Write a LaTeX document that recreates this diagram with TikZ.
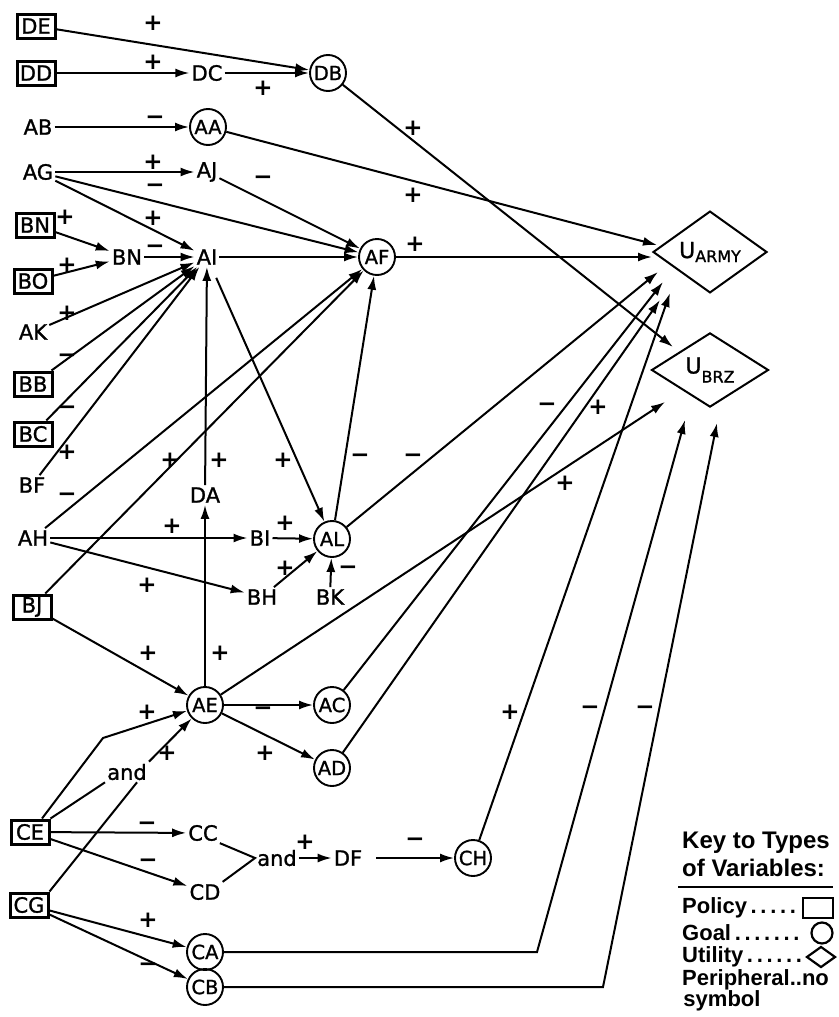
\documentclass[tikz,border=0pt]{standalone}
\usepackage{fontspec}
\setmainfont{DejaVu Sans}
\newfontfamily\heavy{DejaVu Sans}[FakeBold=1.2]
\newfontfamily\keyfont{Liberation Sans}
\usetikzlibrary{arrows.meta,shapes.geometric}
\begin{document}
\begin{tikzpicture}[x=1pt,y=-1pt,
  every node/.style={font=\fontsize{21}{23}\heavy},
  var/.style={inner sep=2pt},
  goal/.style={circle,draw,line width=1.9pt,minimum size=36pt,inner sep=0pt,font=\fontsize{19.5}{21}\heavy},
  policy/.style={rectangle,draw,line width=3pt,minimum width=38pt,minimum height=24pt,inner sep=1pt},
  util/.style={diamond,draw,line width=2pt,inner sep=0pt},
  link/.style={line width=2pt,-{Latex[length=14pt,width=9pt]}},
  plain/.style={line width=2pt},
  sgn/.style={font=\fontsize{23}{24}\selectfont\bfseries,inner sep=0pt},
  keyt/.style={font=\fontsize{24}{26}\keyfont\bfseries,inner sep=0pt,anchor=west},
  keyi/.style={font=\fontsize{22}{24}\keyfont\bfseries,inner sep=0pt,anchor=west}
]
\useasboundingbox (0,0) rectangle (838,1017);

% ---- nodes
\node[policy] (DE) at (36,26) {DE};
\node[policy] (DD) at (36,73) {DD};
\node[var] (DC) at (207,73) {DC};
\node[goal] (DB) at (328,73) {DB};
\node[var] (AB) at (38,127) {AB};
\node[goal] (AA) at (208,127) {AA};
\node[var] (AG) at (38,172) {AG};
\node[var] (AJ) at (207,172) {AJ};
\node[policy] (BNp) at (35,225) {BN};
\node[var] (BN) at (127,257) {BN};
\node[var] (AI) at (207,257) {AI};
\node[goal] (AF) at (377,257) {AF};
\node[policy] (BO) at (33,281) {BO};
\node[var] (AK) at (33,332) {AK};
\node[policy] (BB) at (33,384) {BB};
\node[policy] (BC) at (33,434) {BC};
\node[var] (BF) at (32,485) {BF};
\node[var] (DA) at (205,495) {DA};
\node[var] (AH) at (33,538) {AH};
\node[var] (BI) at (260,538) {BI};
\node[goal] (AL) at (332,539) {AL};
\node[var] (BH) at (262,597) {BH};
\node[var] (BK) at (330,597) {BK};
\node[policy] (BJ) at (32,607) {BJ};
\node[goal] (AE) at (205,705) {AE};
\node[goal] (AC) at (332,705) {AC};
\node[goal] (AD) at (332,768) {AD};
\node[var] (and1) at (127,772) {and};
\node[policy] (CE) at (30,832) {CE};
\node[var] (CC) at (203,833) {CC};
\node[var] (and2) at (277,858) {and};
\node[var] (DF) at (348,858) {DF};
\node[goal] (CH) at (473,858) {CH};
\node[var] (CD) at (205,892) {CD};
\node[policy] (CG) at (29,905) {CG};
\node[goal] (CA) at (205,952) {CA};
\node[goal] (CB) at (205,987) {CB};
\node[util,minimum width=114pt,minimum height=63pt] (UA) at (710,252)
  {\fontsize{22}{22}\heavy U\raisebox{-4pt}{\fontsize{16}{16}\heavy ARMY}};
\node[util,minimum width=117pt,minimum height=70pt] (UB) at (710,370)
  {\fontsize{22}{22}\heavy U\raisebox{-9pt}{\fontsize{16}{16}\heavy BRZ}};

% ---- free ends near the utility nodes
\coordinate (ua1) at (657,245);
\coordinate (ua2) at (652,257);
\coordinate (ua3) at (658,272);
\coordinate (ua4) at (663,282);
\coordinate (ua5) at (660,300);
\coordinate (ua6) at (670,293);
\coordinate (ub1) at (673,347);
\coordinate (ub2) at (665,402);
\coordinate (ub3) at (685,420);
\coordinate (ub4) at (717,423);
\coordinate (caB) at (537,952);
\coordinate (cbB) at (603,987);
\coordinate (ceB) at (103,738);

% ---- connectors
\draw[link] (DE) -- (DB);
\draw[link] (DD) -- (DC);
\draw[link] (DC) -- (DB);
\draw[link] (DB) -- (ub1);
\draw[link] (AB) -- (AA);
\draw[link] (AA) -- (ua1);
\draw[link] (AG) -- (AJ);
\draw[link] (AG) -- (AF);
\draw[link] (AG) -- (AI);
\draw[link] (AJ) -- (AF);
\draw[link] (BNp) -- (BN);
\draw[link] (BO) -- (BN);
\draw[link] (BN) -- (AI);
\draw[link] (AI) -- (AF);
\draw[link] (AF) -- (ua2);
\draw[link] (AK) -- (AI);
\draw[link] (BB) -- (AI);
\draw[link] (BC) -- (AI);
\draw[link] (BF) -- (AI);
\draw[link] (AH) -- (AF);
\draw[link] (BJ) -- (AF);
\draw[link] (DA) -- (AI);
\draw[link] (AE) -- (DA);
\draw[link,shorten <=12pt] (AI) -- (AL);
\draw[link] (AL) -- (AF);
\draw[link] (AL) -- (ua3);
\draw[link] (AH) -- (BI);
\draw[link] (AH) -- (BH);
\draw[link] (BI) -- (AL);
\draw[link] (BH) -- (AL);
\draw[link] (BK) -- (AL);
\draw[link] (BJ) -- (AE);
\draw[link] (AE) -- (ub2);
\draw[link] (AE) -- (AC);
\draw[link] (AE) -- (AD);
\draw[link] (AC) -- (ua4);
\draw[link] (AD) -- (ua5);
\draw[link] ([xshift=12pt]CE.north) -- (ceB) -- (AE);
\draw[link] (and1.north east) -- (AE);
\draw[plain] (CE.north east) -- (and1.south west);
\draw[plain] (CG.north east) -- ([xshift=10pt]and1.south);
\draw[link] (CE) -- (CC);
\draw[link] (CE) -- (CD);
\draw[plain] (CC.south east) -- (and2.west) -- (CD.north east);
\draw[link] (and2) -- (DF);
\draw[link,shorten <=12pt] (DF) -- (CH);
\draw[link] (CH) -- (ua6);
\draw[link] (CG) -- (CA);
\draw[link] (CG) -- (CB);
\draw[link] (CA) -- (caB) -- (ub3);
\draw[link] (CB) -- (cbB) -- (ub4);

% ---- signs
\node[sgn] (s1) at (153,23) {+};
\node[sgn] (s2) at (153,62) {+};
\node[sgn] (s3) at (263,88) {+};
\node[sgn] (s4) at (413,128) {+};
\node[sgn] (s5) at (155,120) {−};
\node[sgn] (s6) at (413,195) {+};
\node[sgn] (s7) at (153,162) {+};
\node[sgn] (s8) at (155,188) {−};
\node[sgn] (s9) at (153,218) {+};
\node[sgn] (s10) at (263,180) {−};
\node[sgn] (s11) at (65,217) {+};
\node[sgn] (s12) at (67,265) {+};
\node[sgn] (s13) at (155,249) {−};
\node[sgn] (s14) at (415,244) {+};
\node[sgn] (s15) at (67,313) {+};
\node[sgn] (s16) at (67,358) {−};
\node[sgn] (s17) at (67,410) {−};
\node[sgn] (s18) at (67,452) {+};
\node[sgn] (s19) at (67,497) {−};
\node[sgn] (s20) at (170,460) {+};
\node[sgn] (s21) at (219,460) {+};
\node[sgn] (s22) at (220,653) {+};
\node[sgn] (s23) at (283,460) {+};
\node[sgn] (s24) at (360,458) {−};
\node[sgn] (s25) at (413,458) {−};
\node[sgn] (s26) at (172,526) {+};
\node[sgn] (s27) at (147,585) {+};
\node[sgn] (s28) at (285,523) {+};
\node[sgn] (s29) at (285,568) {+};
\node[sgn] (s30) at (348,570) {−};
\node[sgn] (s31) at (148,653) {+};
\node[sgn] (s32) at (565,483) {+};
\node[sgn] (s33) at (263,711) {−};
\node[sgn] (s34) at (265,753) {+};
\node[sgn] (s35) at (547,407) {−};
\node[sgn] (s36) at (598,407) {+};
\node[sgn] (s37) at (147,712) {+};
\node[sgn] (s38) at (167,753) {+};
\node[sgn] (s39) at (147,826) {−};
\node[sgn] (s40) at (148,863) {−};
\node[sgn] (s41) at (305,842) {+};
\node[sgn] (s42) at (415,842) {−};
\node[sgn] (s43) at (510,712) {+};
\node[sgn] (s44) at (148,920) {+};
\node[sgn] (s45) at (148,967) {−};
\node[sgn] (s46) at (590,710) {−};
\node[sgn] (s47) at (645,710) {−};

% ---- key
\node[keyt] (k1) at (682,843) {Key to Types};
\node[keyt] (k2) at (682,868) {of Variables:};
\draw[line width=2.5pt] (678,887) -- (833,887);
\node[keyi] (k3) at (682,908) {Policy\,.\,.\,.\,.\,.};
\node[draw,line width=2.2pt,minimum width=30pt,minimum height=20pt,inner sep=0pt] (k3s) at (818,908) {};
\node[keyi] (k4) at (682,933) {Goal\,.\,.\,.\,.\,.\,.\,.};
\node[circle,draw,line width=2.2pt,minimum size=21pt,inner sep=0pt] (k4s) at (822,933) {};
\node[keyi] (k5) at (682,957) {Utility\,.\,.\,.\,.\,.\,.};
\node[diamond,draw,line width=2.2pt,minimum width=29pt,minimum height=21pt,inner sep=0pt] (k5s) at (821,957) {};
\node[keyi] (k6) at (682,980) {Peripheral..no};
\node[keyi,anchor=center] (k7) at (722,1001) {symbol};
\end{tikzpicture}
\end{document}
